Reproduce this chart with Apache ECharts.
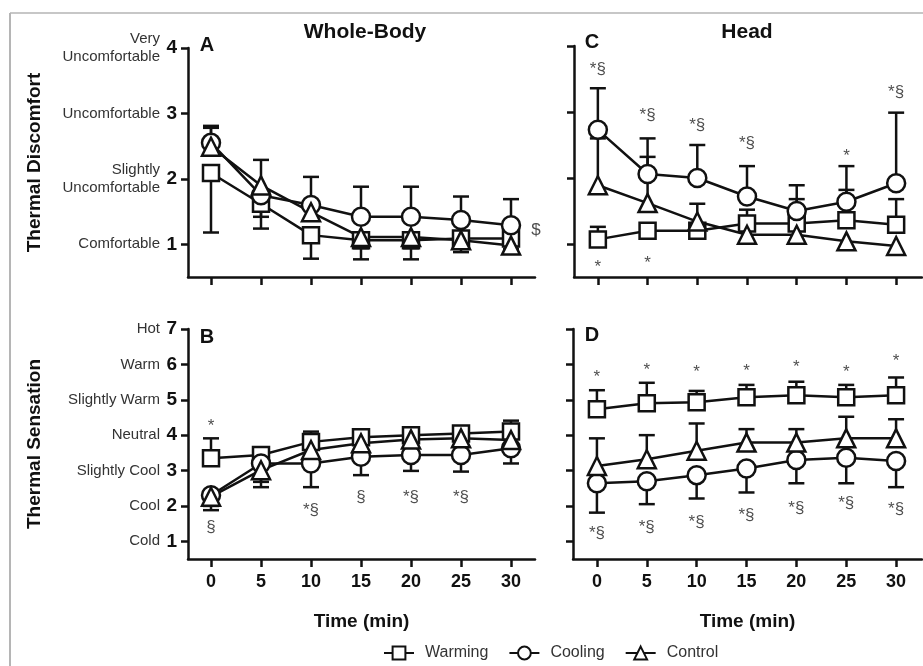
<!DOCTYPE html>
<html>
<head>
<meta charset="utf-8">
<script src="https://cdn.jsdelivr.net/npm/echarts@6/dist/echarts.min.js"></script>
<style>
html, body { margin: 0; padding: 0; background: #fff; }
#chart { width: 923px; height: 666px; }
</style>
</head>
<body>
<div id="chart"></div>
<script>
// time points (min)
var times = [0, 5, 10, 15, 20, 25, 30];
var discomfortLabels = ['Comfortable', 'Slightly\nUncomfortable', 'Uncomfortable', 'Very\nUncomfortable'];
var sensationLabels = ['Cold', 'Cool', 'Slightly Cool', 'Neutral', 'Slightly Warm', 'Warm', 'Hot'];
var groupNames = ['Warming', 'Cooling', 'Control'];

// A: whole-body thermal discomfort (mean, error bar end)
var wbDiscWarm = [2.09, 1.62, 1.14, 1.06, 1.06, 1.09, 1.09];
var wbDiscWarmErr = [1.18, 1.24, 0.78, 0.77, 0.77, 0.88, 0.88];
var wbDiscCool = [2.55, 1.75, 1.60, 1.42, 1.42, 1.37, 1.29];
var wbDiscCoolErr = [2.81, 1.42, 2.03, 1.88, 1.88, 1.73, 1.69];
var wbDiscCtrl = [2.49, 1.90, 1.49, 1.11, 1.11, 1.06, 0.98];
var wbDiscCtrlErr = [2.78, 2.29, null, 0.94, 0.94, 0.93, 0.93];
var wbDiscNotes = [[32.5, 1.22, '$']];

// B: whole-body thermal sensation
var wbSensWarm = [3.35, 3.44, 3.81, 3.94, 4.00, 4.05, 4.10];
var wbSensWarmErr = [3.91, null, 4.10, 4.10, 4.19, 4.19, 4.41];
var wbSensCool = [2.30, 3.20, 3.20, 3.39, 3.44, 3.44, 3.63];
var wbSensCoolErr = [1.88, 2.53, 2.53, 2.87, 2.99, 2.97, 3.20];
var wbSensCtrl = [2.26, 3.01, 3.58, 3.77, 3.88, 3.91, 3.86];
var wbSensCtrlErr = [2.00, 2.68, null, null, null, null, null];
var wbSensNotes = [[0, 4.26, '*'], [0, 1.40, '§'], [10, 1.88, '*§'], [15, 2.25, '§'], [20, 2.25, '*§'], [25, 2.25, '*§']];

// C: head thermal discomfort
var hdDiscWarm = [1.07, 1.20, 1.20, 1.31, 1.31, 1.36, 1.29];
var hdDiscWarmErr = [1.26, null, null, 1.39, 1.39, 1.82, 1.68];
var hdDiscCool = [2.73, 2.06, 2.00, 1.72, 1.50, 1.64, 1.92];
var hdDiscCoolErr = [3.36, 2.60, 2.50, 2.18, 1.89, 2.18, 2.99];
var hdDiscCtrl = [1.89, 1.62, 1.34, 1.14, 1.14, 1.04, 0.97];
var hdDiscCtrlErr = [2.60, 2.32, 1.61, 1.52, 1.68, null, null];
var hdDiscNotes = [[0, 3.64, '*§'], [5, 2.95, '*§'], [10, 2.80, '*§'], [15, 2.53, '*§'], [25, 2.33, '*'], [30, 3.30, '*§'], [0, 0.65, '*'], [5, 0.71, '*']];

// D: head thermal sensation
var hdSensWarm = [4.73, 4.90, 4.93, 5.07, 5.13, 5.07, 5.13];
var hdSensWarmErr = [5.27, 5.48, 5.25, 5.42, 5.51, 5.42, 5.63];
var hdSensCool = [2.64, 2.70, 2.87, 3.06, 3.30, 3.36, 3.27];
var hdSensCoolErr = [1.81, 2.05, 2.21, 2.38, 2.64, 2.64, 2.53];
var hdSensCtrl = [3.13, 3.32, 3.56, 3.79, 3.79, 3.91, 3.91];
var hdSensCtrlErr = [3.91, 4.00, 4.33, 4.17, 4.17, 4.52, 4.45];
var hdSensNotes = [[0, 5.64, '*'], [5, 5.84, '*'], [10, 5.78, '*'], [15, 5.81, '*'], [20, 5.92, '*'], [25, 5.78, '*'], [30, 6.09, '*'],
  [0, 1.23, '*§'], [5, 1.40, '*§'], [10, 1.55, '*§'], [15, 1.74, '*§'], [20, 1.94, '*§'], [25, 2.08, '*§'], [30, 1.91, '*§']];

var FONT = "'Liberation Sans', Arial, sans-serif";
var INK = '#111';
var symbols = ['rect', 'circle', 'triangle'];

function errRender(params, api) {
  var p0 = api.coord([api.value(0), api.value(1)]);
  var p1 = api.coord([api.value(0), api.value(2)]);
  var st = { stroke: INK, lineWidth: 2.5 };
  return {
    type: 'group',
    children: [
      { type: 'line', shape: { x1: p0[0], y1: p0[1], x2: p1[0], y2: p1[1] }, style: st },
      { type: 'line', shape: { x1: p1[0] - 8, y1: p1[1], x2: p1[0] + 8, y2: p1[1] }, style: st }
    ]
  };
}

function panelSeries(idx, groups, notes) {
  var out = [];
  groups.forEach(function (g, k) {
    var bars = [];
    times.forEach(function (t, i) {
      if (g[1][i] != null) bars.push([t, g[0][i], g[1][i]]);
    });
    out.push({
      type: 'custom', xAxisIndex: idx, yAxisIndex: idx, z: 1,
      renderItem: errRender, data: bars, silent: true
    });
  });
  groups.forEach(function (g, k) {
    out.push({
      name: groupNames[k], type: 'line', xAxisIndex: idx, yAxisIndex: idx, z: 2,
      symbol: symbols[k], symbolSize: k === 0 ? 16 : 18,
      itemStyle: { color: '#fff', borderColor: INK, borderWidth: 2.5 },
      lineStyle: { color: INK, width: 2.5 },
      data: times.map(function (t, i) { return [t, g[0][i]]; })
    });
  });
  out.push({
    type: 'scatter', xAxisIndex: idx, yAxisIndex: idx, z: 3, clip: false,
    symbolSize: 1, itemStyle: { color: 'rgba(0,0,0,0)' }, silent: true,
    label: {
      show: true, position: 'inside', fontFamily: FONT, fontSize: 17, color: '#222',
      formatter: function (p) { return p.data[2]; }
    },
    data: notes
  });
  return out;
}

var grids = [
  { left: 188, top: 48, width: 347, height: 229 },
  { left: 188, top: 329, width: 347, height: 230 },
  { left: 574, top: 46, width: 348, height: 231 },
  { left: 573, top: 329, width: 349, height: 230 }
];

function xAx(i, showLabel) {
  return {
    type: 'value', gridIndex: i, min: i < 2 ? -2.3 : -2.4, max: i < 2 ? 32.4 : 32.6,
    axisLine: { onZero: false, lineStyle: { color: INK, width: 2.5 } },
    axisTick: { customValues: times, length: 8, lineStyle: { color: INK, width: 2.5 } },
    axisLabel: { show: showLabel, customValues: times, margin: 14, fontFamily: FONT, fontWeight: 'bold', fontSize: 18, color: INK },
    splitLine: { show: false },
    name: showLabel ? 'Time (min)' : '', nameLocation: 'middle', nameGap: 53,
    nameTextStyle: { fontFamily: FONT, fontWeight: 'bold', fontSize: 19, color: INK }
  };
}

function yNum(i, max, showLabel, name) {
  var ticks = [];
  for (var v = 1; v <= max; v++) ticks.push(v);
  return {
    type: 'value', gridIndex: i, position: 'left', min: 0.5, max: max,
    axisLine: { show: true, onZero: false, lineStyle: { color: INK, width: 2.5 } },
    axisTick: { show: true, customValues: ticks, length: 7, lineStyle: { color: INK, width: 2.5 } },
    axisLabel: { show: showLabel, customValues: ticks, margin: 11, fontFamily: FONT, fontWeight: 'bold', fontSize: 19, color: INK },
    splitLine: { show: false },
    name: name || '', nameLocation: 'middle', nameRotate: 90, nameGap: 144,
    nameTextStyle: { fontFamily: FONT, fontWeight: 'bold', fontSize: 19, color: INK }
  };
}

function yText(i, labels) {
  var ticks = labels.map(function (s, k) { return k + 1; });
  return {
    type: 'value', gridIndex: i, position: 'left', offset: 0, min: 0.5, max: labels.length,
    axisLine: { show: false }, axisTick: { show: false }, splitLine: { show: false },
    axisLabel: {
      customValues: ticks, margin: 28, fontFamily: FONT, fontSize: 15, color: '#333', lineHeight: 18,
      formatter: function (v) { return labels[Math.round(v) - 1]; }
    }
  };
}

function txt(x, y, s, size) {
  return {
    type: 'text', x: x, y: y, z: 10,
    style: { text: s, font: 'bold ' + size + 'px ' + FONT, fill: INK, textAlign: 'center', textVerticalAlign: 'middle' }
  };
}

var chart = echarts.init(document.getElementById('chart'));
chart.setOption({
  animation: false,
  backgroundColor: '#fff',
  grid: grids,
  xAxis: [xAx(0, false), xAx(1, true), xAx(2, false), xAx(3, true)],
  yAxis: [
    yNum(0, 4, true, 'Thermal Discomfort'),
    yNum(1, 7, true, 'Thermal Sensation'),
    yNum(2, 4, false),
    yNum(3, 7, false),
    yText(0, discomfortLabels),
    yText(1, sensationLabels)
  ],
  legend: {
    data: groupNames, left: 378, top: 640, itemWidth: 30, itemHeight: 16, itemGap: 20,
    textStyle: { fontFamily: FONT, fontSize: 16, color: '#333', padding: [0, 0, 0, 6] }
  },
  graphic: [
    { type: 'line', z: -1, shape: { x1: 10, y1: 13, x2: 923, y2: 13 }, style: { stroke: '#b5b5b5', lineWidth: 1.5 } },
    { type: 'line', z: -1, shape: { x1: 10, y1: 13, x2: 10, y2: 666 }, style: { stroke: '#b5b5b5', lineWidth: 2 } },
    txt(365, 32, 'Whole-Body', 21),
    txt(747, 32, 'Head', 21),
    txt(207, 45, 'A', 20),
    txt(207, 337, 'B', 20),
    txt(592, 42, 'C', 20),
    txt(592, 335, 'D', 20)
  ],
  series: [].concat(
    panelSeries(0, [[wbDiscWarm, wbDiscWarmErr], [wbDiscCool, wbDiscCoolErr], [wbDiscCtrl, wbDiscCtrlErr]], wbDiscNotes),
    panelSeries(1, [[wbSensWarm, wbSensWarmErr], [wbSensCool, wbSensCoolErr], [wbSensCtrl, wbSensCtrlErr]], wbSensNotes),
    panelSeries(2, [[hdDiscWarm, hdDiscWarmErr], [hdDiscCool, hdDiscCoolErr], [hdDiscCtrl, hdDiscCtrlErr]], hdDiscNotes),
    panelSeries(3, [[hdSensWarm, hdSensWarmErr], [hdSensCool, hdSensCoolErr], [hdSensCtrl, hdSensCtrlErr]], hdSensNotes)
  )
});
</script>
</body>
</html>
